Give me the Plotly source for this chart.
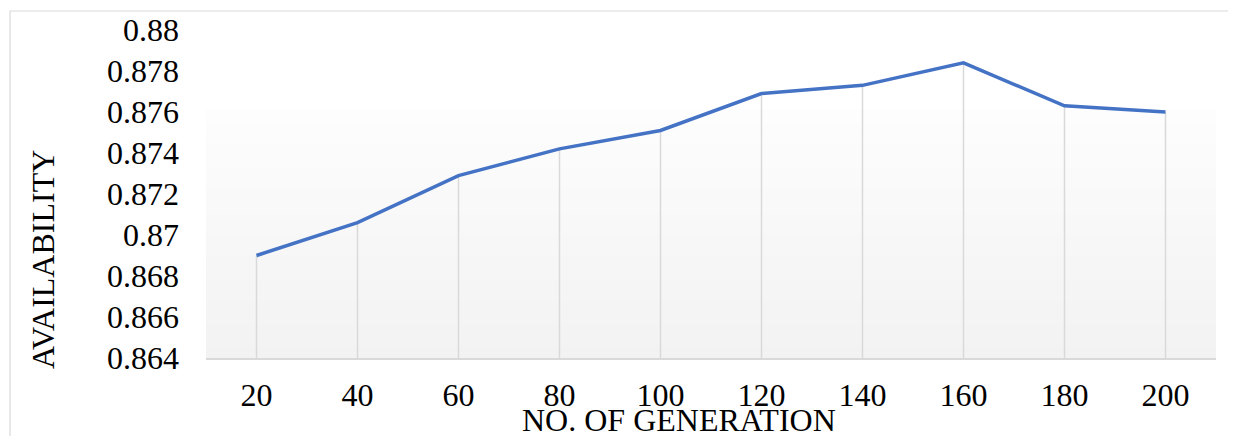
import plotly.graph_objects as go

generations = [20, 40, 60, 80, 100, 120, 140, 160, 180, 200]
availability = [0.8690, 0.8706, 0.8729, 0.8742, 0.8751, 0.8769, 0.8773, 0.8784, 0.8763, 0.8760]
y_ticks = [0.864, 0.866, 0.868, 0.87, 0.872, 0.874, 0.876, 0.878, 0.88]
y_min, y_max = 0.864, 0.88

FONT = "Liberation Serif, Times New Roman, serif"

# drop lines from each point to the axis
drop_x, drop_y = [], []
for g, a in zip(generations, availability):
    drop_x += [g, g, None]
    drop_y += [y_min, a, None]

fig = go.Figure()
fig.add_trace(go.Scatter(x=drop_x, y=drop_y, mode="lines",
                         line=dict(color="#d9d9d9", width=1.5),
                         hoverinfo="skip", showlegend=False))
fig.add_trace(go.Scatter(x=generations, y=availability, mode="lines",
                         line=dict(color="#4472C4", width=3.5),
                         showlegend=False))

# gradient plot background (strips)
shapes = []
n = 60
g_top = 0.756
for i in range(n):
    f0 = i / n
    f1 = (i + 1) / n
    t = (f0 + f1) / 2  # 0 bottom, 1 top
    c = round(242 + (253 - 242) * t)
    shapes.append(dict(type="rect", xref="x domain", yref="y domain",
                       x0=0, x1=1, y0=f0 * g_top, y1=f1 * g_top + 0.002,
                       fillcolor=f"rgb({c},{c},{c})", line=dict(width=0),
                       layer="below"))
# outer frame
shapes.append(dict(type="rect", xref="paper", yref="paper",
                   x0=-0.194, x1=1.05, y0=-0.4, y1=1.058,
                   line=dict(color="#d9d9d9", width=1.2),
                   fillcolor="rgba(0,0,0,0)", layer="below"))

tickfont = dict(family=FONT, size=32, color="black")

fig.update_layout(
    width=1236, height=436,
    margin=dict(l=198, r=28, t=22, b=86),
    paper_bgcolor="white", plot_bgcolor="white",
    font=dict(family=FONT, size=32, color="black"),
    shapes=shapes,
    xaxis=dict(range=[10, 210], tickmode="array", tickvals=generations,
               ticktext=[str(g) for g in generations], tickfont=tickfont,
               showgrid=False, zeroline=False, showline=True,
               linecolor="#d9d9d9", linewidth=1.5, ticks="",
               ticklabelstandoff=8, automargin=False,
               ticklabeloverflow="allow"),
    yaxis=dict(range=[y_min, y_max], tickmode="array", tickvals=y_ticks,
               ticktext=[f"{v:g}" for v in y_ticks], tickfont=tickfont,
               showgrid=False, zeroline=False, showline=False, ticks="",
               ticklabelstandoff=26, automargin=False,
               ticklabeloverflow="allow"),
    annotations=[
        dict(text="AVAILABILITY", xref="paper", yref="paper",
             x=-0.1614, y=0.302, textangle=-90, showarrow=False,
             xanchor="center", yanchor="middle",
             font=dict(family=FONT, size=32, color="black")),
        dict(text="NO. OF GENERATION", xref="paper", yref="paper",
             x=0.468, y=-0.19, showarrow=False,
             xanchor="center", yanchor="middle",
             font=dict(family=FONT, size=32, color="black")),
    ],
)

fig.write_html("out.html")
